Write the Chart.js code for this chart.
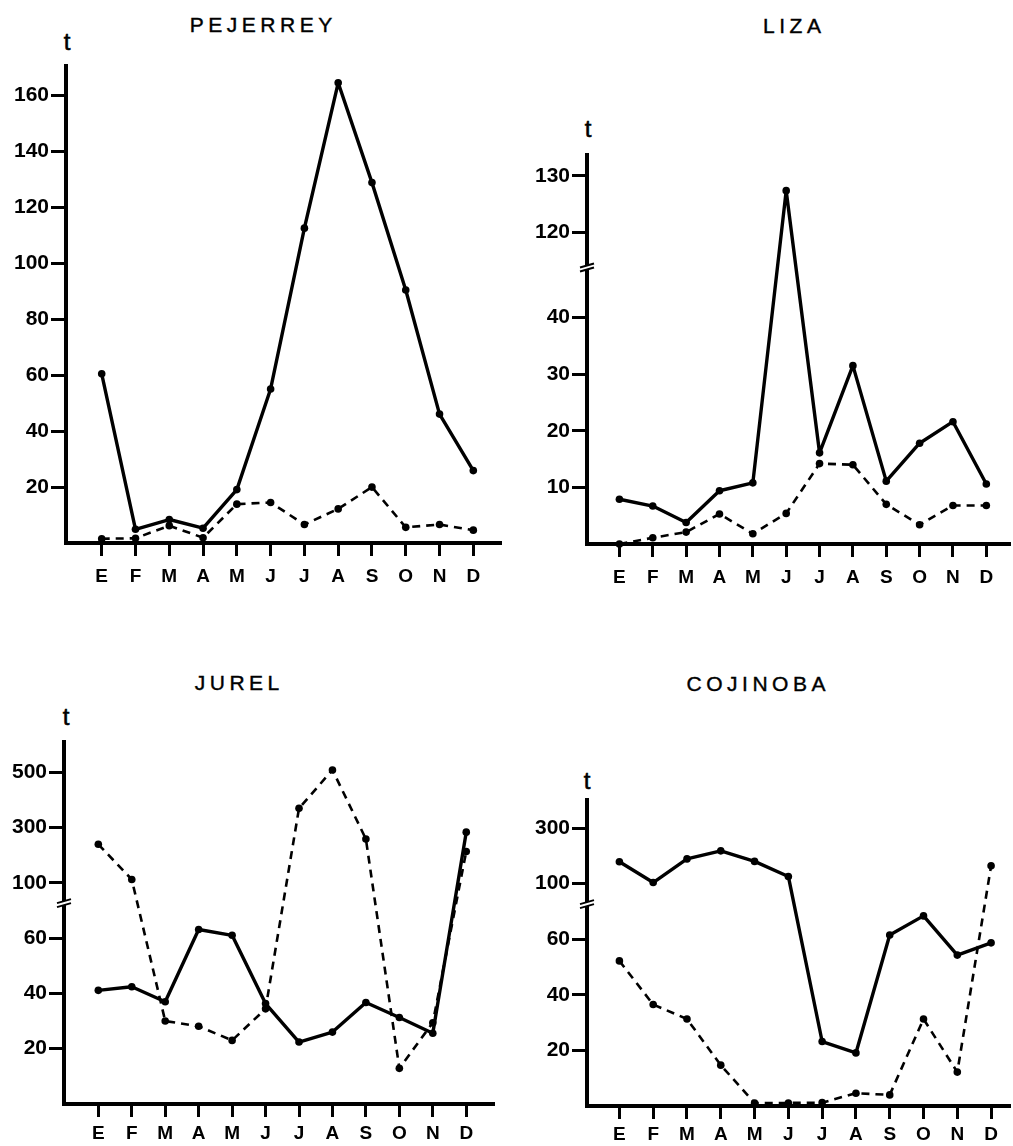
<!DOCTYPE html>
<html lang="es">
<head>
  <meta charset="UTF-8" />
  <title>Desembarques mensuales – Pejerrey, Liza, Jurel, Cojinoba</title>
  <script src="https://cdn.jsdelivr.net/npm/chart.js"></script>
  <style>
    body { margin: 0; background: #fff; }
    #page { position: relative; width: 1013px; height: 1146px; overflow: hidden;
            font-family: "Liberation Sans", Arial, sans-serif; color: #000; }
    canvas { position: absolute; }
    .title { position: absolute; font-size: 21px; line-height: 21px; letter-spacing: 4.5px;
             padding-left: 4.5px; transform: translateX(-50%); white-space: nowrap;
             -webkit-text-stroke: 0.4px #000; }
    .unit { position: absolute; font-size: 24px; line-height: 24px; transform: translateX(-50%);
            -webkit-text-stroke: 0.6px #000; }
  </style>
</head>
<body>
<div id="page">
  <div class="title" style="left:261px; top:14px;">PEJERREY</div>
  <div class="title" style="left:792px; top:15px;">LIZA</div>
  <div class="title" style="left:237px; top:672px;">JUREL</div>
  <div class="title" style="left:756px; top:673px;">COJINOBA</div>
  <div class="unit" style="left:67px; top:30px;">t</div>
  <div class="unit" style="left:588px; top:117px;">t</div>
  <div class="unit" style="left:66px; top:705px;">t</div>
  <div class="unit" style="left:587px; top:769px;">t</div>

  <canvas id="pejerrey" width="506" height="600" style="left:0; top:0;"></canvas>
  <canvas id="liza" width="507" height="600" style="left:506px; top:0;"></canvas>
  <canvas id="jurel" width="506" height="546" style="left:0; top:600px;"></canvas>
  <canvas id="cojinoba" width="507" height="546" style="left:506px; top:600px;"></canvas>
</div>

<script>
  // months (Enero..Diciembre)
  const months = ["E", "F", "M", "A", "M", "J", "J", "A", "S", "O", "N", "D"];

  // tonnes per month: solid line and dashed line
  const pejerreySolid  = [60.5, 4.9, 8.4, 5.3, 19.1, 55.1, 112.6, 164.6, 128.9, 90.5, 46.1, 25.9];
  const pejerreyDashed = [1.5, 1.7, 6.2, 1.9, 13.9, 14.5, 6.6, 12.2, 20, 5.6, 6.6, 4.6];
  const lizaSolid      = [7.9, 6.7, 3.8, 9.4, 10.8, 127.4, 16.1, 31.5, 11.1, 17.8, 21.6, 10.6];
  const lizaDashed     = [0, 1.1, 2.1, 5.3, 1.8, 5.4, 14.2, 14.0, 7.0, 3.4, 6.8, 6.8];
  const jurelSolid     = [41.1, 42.4, 37, 63.1, 61, 36.3, 22.4, 26, 36.7, 31.3, 25.6, 283];
  const jurelDashed    = [239, 112, 30, 28.1, 23, 34.4, 369, 508, 258, 12.9, 29.4, 213];
  const cojinobaSolid  = [179, 104, 189, 218, 180, 126, 23.2, 19.1, 61.5, 68.4, 54.3, 58.7];
  const cojinobaDashed = [52.2, 36.5, 31.3, 14.7, 1.1, 1.1, 1.2, 4.6, 4.0, 31.3, 12.2, 164];

  // y tick labels
  const pejerreyTicks = [20, 40, 60, 80, 100, 120, 140, 160];
  const lizaTicks     = [10, 20, 30, 40, 120, 130];
  const jurelTicks    = [20, 40, 60, 100, 300, 500];
  const cojinobaTicks = [20, 40, 60, 100, 300];

  // broken axes: real value -> plotted value
  const plain   = v => v;
  const lizaCut = v => (v > 60 ? v - 65 : v);
  const bigCut  = v => (v > 90 ? 80 + (v - 100) / 10 : v);

  const FONT = "'Liberation Sans', Arial, sans-serif";

  // draws the "//" mark where the y axis is broken
  const axisBreak = {
    id: "axisBreak",
    afterDraw(chart, args, opts) {
      if (opts.at == null) return;
      const c = chart.ctx;
      const x = chart.chartArea.left;
      const y = chart.scales.y.getPixelForValue(opts.at);
      c.save();
      c.fillStyle = "#fff";
      c.beginPath();
      c.moveTo(x - 7, y + 1); c.lineTo(x + 7, y - 3);
      c.lineTo(x + 7, y + 1); c.lineTo(x - 7, y + 5);
      c.closePath(); c.fill();
      c.strokeStyle = "#000"; c.lineWidth = 2;
      c.beginPath();
      c.moveTo(x - 7, y + 1); c.lineTo(x + 7, y - 3);
      c.moveTo(x - 7, y + 5); c.lineTo(x + 7, y + 1);
      c.stroke();
      c.restore();
    }
  };

  function panel(id, solid, dashed, ticks, fn, box) {
    const canvas = document.getElementById(id);
    const H = canvas.height;
    const pts = arr => arr.map((v, i) => ({ x: i, y: fn(v) }));
    new Chart(canvas.getContext("2d"), {
      type: "line",
      data: {
        datasets: [
          { data: pts(solid), borderColor: "#000", backgroundColor: "#000", borderWidth: 3.4,
            borderJoinStyle: "round", pointRadius: 3.8, pointBorderWidth: 0, tension: 0, clip: false },
          { data: pts(dashed), borderColor: "#000", backgroundColor: "#000", borderWidth: 2.6,
            borderDash: [8, 6], borderJoinStyle: "round", pointRadius: 3.8, pointBorderWidth: 0,
            tension: 0, clip: false }
        ]
      },
      options: {
        responsive: false,
        animation: false,
        events: [],
        layout: { padding: { top: box.top, right: box.right, left: 0, bottom: 0 } },
        plugins: {
          legend: { display: false },
          tooltip: { enabled: false },
          axisBreak: { at: box.breakAt }
        },
        scales: {
          x: {
            type: "linear",
            min: box.xMin,
            max: box.xMax,
            afterBuildTicks: s => { s.ticks = months.map((m, i) => ({ value: i })); },
            afterFit: s => { s.height = H - box.axisY; },
            ticks: {
              callback: v => months[v],
              autoSkip: false, maxRotation: 0, padding: box.labelPad, color: "#000",
              font: { family: FONT, size: 19, weight: "bold" }
            },
            grid: { drawOnChartArea: false, tickLength: 13, lineWidth: 3, color: "#000" },
            border: { color: "#000", width: 4 }
          },
          y: {
            min: 0,
            max: box.yMax,
            afterBuildTicks: s => { s.ticks = ticks.map(v => ({ value: fn(v) })); },
            afterFit: s => { s.width = box.axisX; },
            ticks: {
              callback: (v, i) => ticks[i],
              padding: 2, color: "#000",
              font: { family: FONT, size: 21, weight: "bold" }
            },
            grid: { drawOnChartArea: false, tickLength: 15, lineWidth: 3, color: "#000" },
            border: { color: "#000", width: 4 }
          }
        }
      },
      plugins: [axisBreak]
    });
  }

  panel("pejerrey", pejerreySolid, pejerreyDashed, pejerreyTicks, plain,
        { axisX: 66, top: 66, axisY: 543, right: 6, labelPad: 9, xMin: -1.057, xMax: 11.79, yMax: 170.6, breakAt: null });
  panel("liza", lizaSolid, lizaDashed, lizaTicks, lizaCut,
        { axisX: 81, top: 155, axisY: 544, right: 0, labelPad: 9, xMin: -0.972, xMax: 11.68, yMax: 68.7, breakAt: 49 });
  panel("jurel", jurelSolid, jurelDashed, jurelTicks, bigCut,
        { axisX: 64, top: 142, axisY: 504, right: 13, labelPad: 5, xMin: -1.026, xMax: 11.80, yMax: 130.9, breakAt: 73 });
  panel("cojinoba", cojinobaSolid, cojinobaDashed, cojinobaTicks, bigCut,
        { axisX: 81, top: 200, axisY: 506, right: 0, labelPad: 4, xMin: -0.959, xMax: 11.53, yMax: 110.1, breakAt: 73 });
</script>
</body>
</html>
